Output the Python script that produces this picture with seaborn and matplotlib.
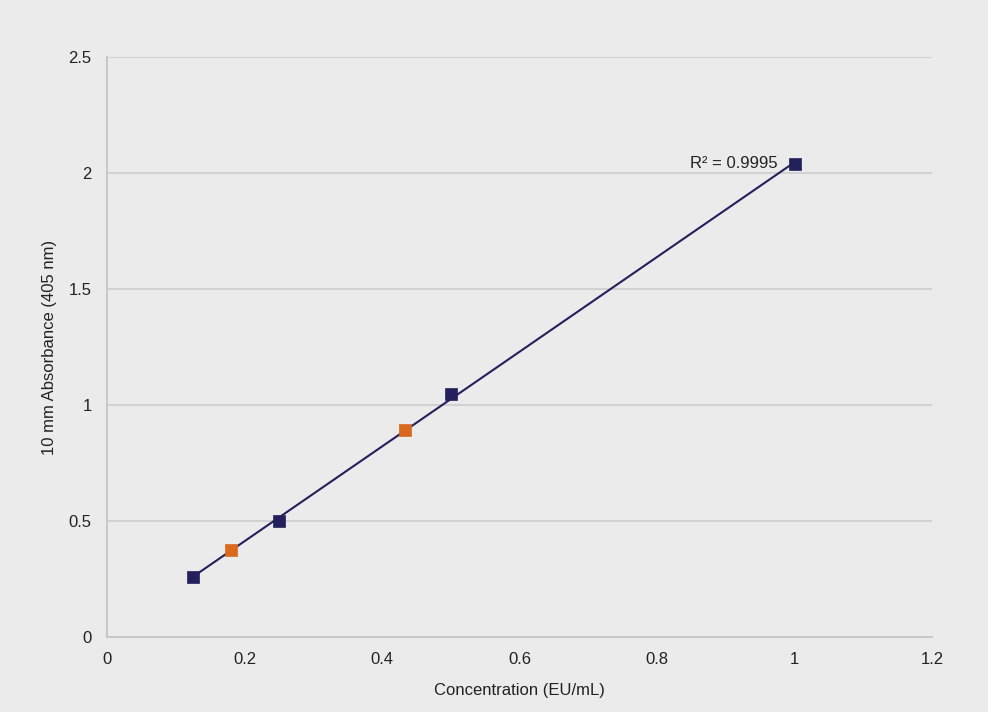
import matplotlib
matplotlib.use("Agg")
import matplotlib.pyplot as plt
import seaborn as sns
import pandas as pd
import numpy as np

std_conc = [0.125, 0.25, 0.5, 1.0]
std_abs = [0.26, 0.50, 1.047, 2.039]
sample_conc = [0.180, 0.433]
sample_abs = [0.375, 0.892]
r2_label = "R² = 0.9995"
x_ticks = [0, 0.2, 0.4, 0.6, 0.8, 1, 1.2]
y_ticks = [0, 0.5, 1, 1.5, 2, 2.5]

sns.set_style("white")
plt.rcParams['font.family'] = ['Liberation Sans', 'DejaVu Sans']

bg = "#ebebeb"
navy = "#23205c"
orange = "#d8691f"
txt = "#222222"

fig = plt.figure(figsize=(9.88, 7.12), dpi=100, facecolor=bg)
ax = fig.add_axes([107/988, 1-637/712, (932-107)/988, (637-57)/712])
ax.set_facecolor(bg)

std = pd.DataFrame({"x": std_conc, "y": std_abs})
smp = pd.DataFrame({"x": sample_conc, "y": sample_abs})

for v in y_ticks[1:]:
    ax.axhline(v, color="#cfcfcf", lw=1.3, zorder=0)

sns.regplot(data=std, x="x", y="y", ax=ax, scatter=False, ci=None,
            line_kws=dict(color=navy, lw=1.5, zorder=2))
sns.scatterplot(data=std, x="x", y="y", ax=ax, marker="s", s=64,
                color=navy, edgecolor=navy, linewidth=0.5, zorder=3)
sns.scatterplot(data=smp, x="x", y="y", ax=ax, marker="s", s=64,
                color=orange, edgecolor=orange, linewidth=0.5, zorder=3)

ax.text(std_conc[-1] - 0.025, std_abs[-1] + 0.003, r2_label, ha="right", va="center",
        fontsize=12, color=txt)

ax.set_xlim(0, 1.2)
ax.set_ylim(0, 2.5)
ax.set_xticks(x_ticks)
ax.set_xticklabels([f"{t:g}" for t in x_ticks])
ax.set_yticks(y_ticks)
ax.set_yticklabels([f"{t:g}" for t in y_ticks])
ax.tick_params(axis="both", length=0, labelsize=12, colors=txt)
ax.tick_params(axis="x", pad=11)
ax.tick_params(axis="y", pad=11)
for s in ["top", "right"]:
    ax.spines[s].set_visible(False)
for s in ["left", "bottom"]:
    ax.spines[s].set_color("#c4c4c4")
    ax.spines[s].set_linewidth(1.3)
ax.set_xlabel("Concentration (EU/mL)", fontsize=12, color=txt, labelpad=11)
ax.set_ylabel("10 mm Absorbance (405 nm)", fontsize=12, color=txt, labelpad=8)

fig.savefig("out.png", dpi=100, facecolor=bg)
